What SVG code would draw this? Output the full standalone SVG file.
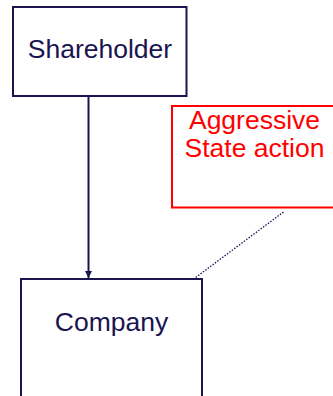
<svg xmlns="http://www.w3.org/2000/svg" width="333" height="396" viewBox="0 0 333 396">
<style>
.box{fill:#fff;stroke:#1a1450;stroke-width:2}
.red{fill:#fff;stroke:#ff0000;stroke-width:2}
.t{font-family:"Liberation Sans",Arial,sans-serif;font-size:26.5px;text-anchor:middle;fill:#1a1450}
.tr{font-family:"Liberation Sans",Arial,sans-serif;font-size:26.5px;text-anchor:middle;fill:#ff0000}
</style>
<defs>
<marker id="ah" markerWidth="8" markerHeight="8" refX="7" refY="4" orient="auto" markerUnits="userSpaceOnUse">
<path d="M0,0.5 L7,4 L0,7.5 Z" fill="#1a1450"/>
</marker>
</defs>
<rect width="333" height="396" fill="#fff"/>
<g id="connectors">
<line x1="88.5" y1="97" x2="88.5" y2="278" stroke="#1a1450" stroke-width="2" marker-end="url(#ah)"/>
<line x1="283.5" y1="212" x2="195" y2="278" stroke="#1a1450" stroke-width="1.3" stroke-dasharray="1.5,1.5"/>
</g>
<g id="shareholder">
<rect class="box" x="13" y="7" width="173.5" height="89"/>
<text class="t" x="100" y="58">Shareholder</text>
</g>
<g id="aggressive">
<rect class="red" x="172" y="106" width="166" height="101.5"/>
<text class="tr" x="254.5" y="128.5">Aggressive</text>
<text class="tr" x="254.5" y="156.5">State action</text>
</g>
<g id="company">
<rect class="box" x="21" y="279" width="181" height="130"/>
<text class="t" x="111.5" y="331">Company</text>
</g>
</svg>
